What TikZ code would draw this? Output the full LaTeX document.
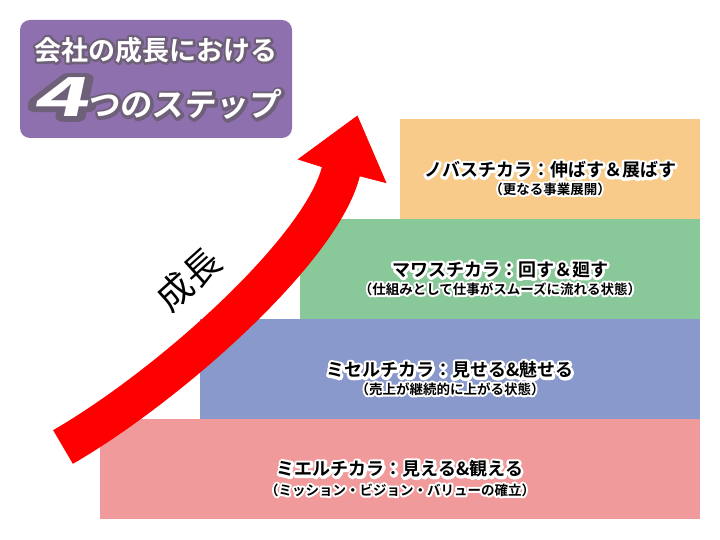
\documentclass[tikz,border=0pt]{standalone}
\usepackage{fontspec}
\usepackage{graphicx}
\newfontfamily\jp{Noto Sans CJK JP}
\newfontfamily\jpb{Noto Sans CJK JP Bold}
\newfontfamily\jphalo{Noto Sans CJK JP Bold}[FakeBold=30]
\newfontfamily\jpti{Noto Sans CJK JP Bold}[FakeSlant=0.12]
\newfontfamily\jptihalo{Noto Sans CJK JP Bold}[FakeSlant=0.12,FakeBold=18]
\newfontfamily\jpbshade{Noto Sans CJK JP Bold}[FakeBold=18]
\definecolor{cpurple}{RGB}{143,112,174}
\definecolor{corange}{RGB}{248,203,139}
\definecolor{cgreen}{RGB}{137,200,152}
\definecolor{cblue}{RGB}{138,153,203}
\definecolor{cpink}{RGB}{240,154,156}
\definecolor{cshade}{RGB}{110,96,120}
% white outline behind black text (emboldened copy at the same place)
\newcommand\halo[1]{\leavevmode\rlap{\special{pdf:literal direct 1 j 1 J}\color{white}\jphalo #1}{\jpb #1}}
% grey outline behind white title text
\newcommand\shad[2]{\leavevmode\rlap{\special{pdf:literal direct 1 j 1 J}\color{cshade}#1#2}{\color{white}#2}}
\tikzset{
  steptitle/.style={font=\jpb\fontsize{18}{22}\selectfont, inner sep=0pt},
  stepsub/.style={font=\jpb\fontsize{13.5}{16}\selectfont, inner sep=0pt},
}
\begin{document}
\begin{tikzpicture}[x=1pt,y=-1pt]
\useasboundingbox (0,0) rectangle (720,540);
\fill[white] (0,0) rectangle (720,540);
% steps
\fill[cpink]   (100,419) rectangle (700,519);
\fill[cblue]   (200,319) rectangle (700,419);
\fill[cgreen]  (300,219) rectangle (700,319);
\fill[corange] (400,119) rectangle (700,219);
% title box
\fill[cpurple, rounded corners=10pt] (20,20) rectangle (292,138);
\node[font=\jpb\fontsize{27}{30}\selectfont, inner sep=0pt] (h1) at (156,50) {\shad{\jpbshade}{会社の成長における}};
\node[font=\jpti\fontsize{32}{34}\selectfont, inner sep=0pt, anchor=base] (h2) at (156,117)
  {\shad{\jptihalo}{\fontsize{54}{54}\selectfont\scalebox{1.75}[1]{4}}\shad{\jptihalo}{つのステップ}};
% arrow
\draw[red, line width=39pt] (63,447) .. controls (170,385) and (322,249) .. (341,171);
\filldraw[red, line width=0.6pt] (321.7,166.7) -- (298.3,159.3) -- (357.3,116) -- (386,182.7) -- (360,176) -- cycle;
\node[font=\jp\fontsize{36}{36}\selectfont, rotate=42, inner sep=0pt] (g) at (188,279) {成長};
% step texts
\node[steptitle] (t4) at (550,170) {\halo{ノバスチカラ：伸ばす＆展ばす}};
\node[stepsub]   (u4) at (550,189) {\halo{（更なる事業展開）}};
\node[steptitle] (t3) at (500,270) {\halo{マワスチカラ：回す＆廻す}};
\node[stepsub]   (u3) at (500,289) {\halo{（仕組みとして仕事がスムーズに流れる状態）}};
\node[steptitle] (t2) at (450,370) {\halo{ミセルチカラ：見せる\&魅せる}};
\node[stepsub]   (u2) at (450,389) {\halo{（売上が継続的に上がる状態）}};
\node[steptitle] (t1) at (400,469) {\halo{ミエルチカラ：見える\&観える}};
\node[stepsub]   (u1) at (400,490) {\halo{（ミッション・ビジョン・バリューの確立）}};
\end{tikzpicture}
\end{document}
